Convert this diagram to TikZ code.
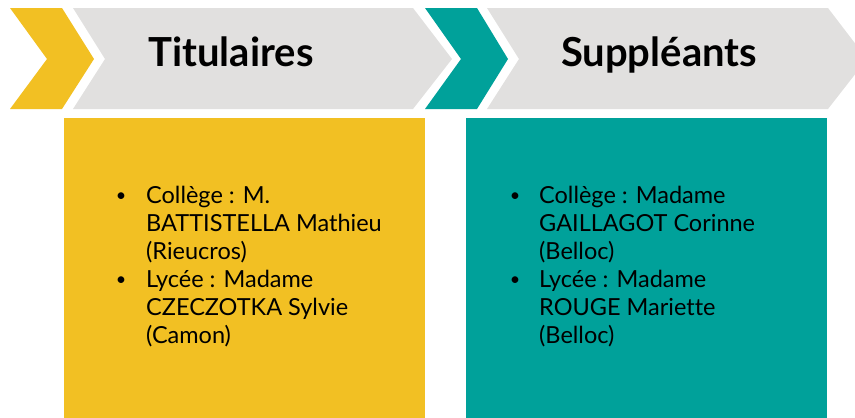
\documentclass[tikz,border=0pt]{standalone}
\usepackage{fontspec}
\setmainfont{Lato}[Ligatures=NoCommon]
\definecolor{cyellow}{HTML}{F2C023}
\definecolor{cteal}{HTML}{00A19A}
\definecolor{cgray}{HTML}{E1E0DF}
\begin{document}
\begin{tikzpicture}[x=1pt,y=-1pt,
  title/.style={anchor=base,font=\fontsize{40}{48}\selectfont\bfseries,text=black,inner sep=0pt},
  bodytext/.style={anchor=base west,font=\fontsize{23.5}{28}\selectfont,inner sep=0pt,text=black},
  bul/.style={anchor=base,font=\fontsize{18}{28}\selectfont,inner sep=0pt,text=black}]
\useasboundingbox (0,0) rectangle (855,418);
\begin{scope}
\clip (0,0) rectangle (855,418);
% chevrons
\fill[cyellow] (10,8) -- (62,8) -- (94,59) -- (62,109) -- (10,109) -- (47,59) -- cycle;
\fill[cgray] (73,8) -- (413,8) -- (452,59) -- (413,109) -- (73,109) -- (105,59) -- cycle;
\fill[cteal] (425,8) -- (477,8) -- (508,59) -- (477,109) -- (425,109) -- (461,59) -- cycle;
\fill[cgray] (487,8) -- (828,8) -- (867,59) -- (828,109) -- (487,109) -- (519,59) -- cycle;
% boxes
\fill[cyellow] (64,118) rectangle (425,420);
\fill[cteal] (466,118) rectangle (827,420);
\end{scope}
\node[title] (t1) at (231,66) {Titulaires};
\node[title] (t2) at (659,66) {Suppléants};
% left box
\node[bul] (b1) at (121,201) {•};
\node[bodytext] (l1a) at (146,203) {Collège : M.};
\node[bodytext] (l1b) at (146,231) {BATTISTELLA Mathieu};
\node[bodytext] (l1c) at (146,259) {(Rieucros)};
\node[bul] (b2) at (121,285) {•};
\node[bodytext] (l2a) at (146,287) {Lycée : Madame};
\node[bodytext] (l2b) at (146,315) {CZECZOTKA Sylvie};
\node[bodytext] (l2c) at (146,343) {(Camon)};
% right box
\node[bul] (b3) at (515,201) {•};
\node[bodytext] (l3a) at (539,203) {Collège : Madame};
\node[bodytext] (l3b) at (539,231) {GAILLAGOT Corinne};
\node[bodytext] (l3c) at (539,259) {(Belloc)};
\node[bul] (b4) at (515,285) {•};
\node[bodytext] (l4a) at (539,287) {Lycée : Madame};
\node[bodytext] (l4b) at (539,315) {ROUGE Mariette};
\node[bodytext] (l4c) at (539,343) {(Belloc)};
\end{tikzpicture}
\end{document}
